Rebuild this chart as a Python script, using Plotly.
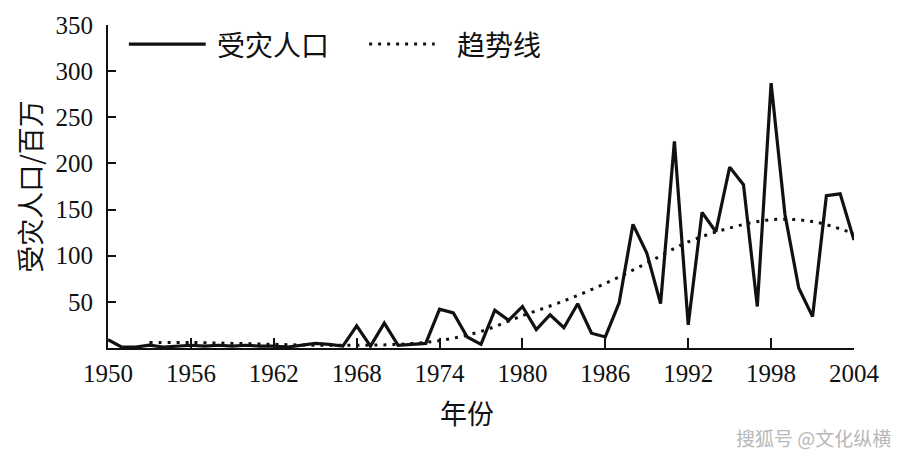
import plotly.graph_objects as go

years = list(range(1950, 2005))
affected = [
    9, 1, 1, 3, 1, 2, 3, 2, 3, 2,
    3, 2, 2, 1, 3, 5, 4, 2, 24, 2,
    27, 3, 4, 5, 42, 38, 12, 4, 41, 30,
    45, 20, 36, 22, 48, 16, 12, 49, 134, 103,
    48, 224, 25, 147, 126, 196, 177, 45, 287, 145,
    65, 34, 165, 167, 117,
]

trend_years = list(range(1953, 2005, 3))
trend = [6, 6, 5, 4, 3, 3, 4, 8, 18, 35, 51, 70, 92, 115, 130, 139, 137, 124]

x_ticks = list(range(1950, 2005, 6))
y_ticks = [50, 100, 150, 200, 250, 300, 350]

num_font = "Liberation Serif, Times New Roman, serif"
cjk_font = "Noto Sans CJK SC, sans-serif"
ink = "#111111"

series_style = {
    "受灾人口": {"width": 3.2, "dash": "solid"},
    "趋势线": {"width": 3, "dash": "3px,6px"},
}

fig = go.Figure()
fig.add_trace(
    go.Scatter(
        x=years,
        y=affected,
        name="受灾人口",
        mode="lines",
        line={"color": ink, **series_style["受灾人口"]},
    )
)
fig.add_trace(
    go.Scatter(
        x=trend_years,
        y=trend,
        name="趋势线",
        mode="lines",
        line={"color": ink, "shape": "spline", **series_style["趋势线"]},
    )
)

# hand-made legend: longer line samples than plotly's built-in legend
legend_slots = [(0.028, 0.131, 0.143), (0.350, 0.438, 0.465)]
legend_y = 0.941
for (x0, x1, tx), name in zip(legend_slots, series_style):
    fig.add_shape(
        type="line",
        xref="paper",
        yref="paper",
        x0=x0,
        x1=x1,
        y0=legend_y,
        y1=legend_y,
        line={"color": ink, **series_style[name]},
    )
    fig.add_annotation(
        text=name,
        xref="paper",
        yref="paper",
        x=tx,
        y=legend_y,
        xanchor="left",
        yanchor="middle",
        showarrow=False,
        font={"family": cjk_font, "size": 28, "color": ink},
    )

fig.add_annotation(
    text="年份",
    xref="paper",
    yref="paper",
    x=0.481,
    y=-0.2,
    xanchor="center",
    yanchor="middle",
    showarrow=False,
    font={"family": cjk_font, "size": 27, "color": ink},
)
fig.add_annotation(
    text="搜狐号 @文化纵横",
    xref="paper",
    yref="paper",
    x=1.052,
    y=-0.276,
    xanchor="right",
    yanchor="middle",
    showarrow=False,
    font={"family": cjk_font, "size": 19, "color": "#b8b8b8"},
)

fig.update_layout(
    width=898,
    height=457,
    paper_bgcolor="white",
    plot_bgcolor="white",
    margin={"l": 108, "r": 44, "t": 25, "b": 109, "autoexpand": False},
    showlegend=False,
)

fig.update_xaxes(
    range=[1950, 2004],
    tickvals=x_ticks,
    ticks="inside",
    ticklen=10,
    tickwidth=1.5,
    tickcolor=ink,
    showline=True,
    linecolor=ink,
    linewidth=2,
    showgrid=False,
    zeroline=False,
    automargin=False,
    ticklabelstandoff=2,
    tickfont={"family": num_font, "size": 25, "color": ink},
)
fig.update_yaxes(
    range=[0, 350],
    tickvals=y_ticks,
    ticks="inside",
    ticklen=8,
    tickwidth=1.5,
    tickcolor=ink,
    showline=True,
    linecolor=ink,
    linewidth=2,
    showgrid=False,
    zeroline=False,
    automargin=False,
    ticklabelstandoff=8,
    tickfont={"family": num_font, "size": 25, "color": ink},
    title={"text": "受灾人口/百万", "font": {"family": cjk_font, "size": 27, "color": ink}, "standoff": 6},
)

fig.write_html(
    "out.html",
    config={"displayModeBar": False},
    post_script="document.body.style.margin = '0';",
)
